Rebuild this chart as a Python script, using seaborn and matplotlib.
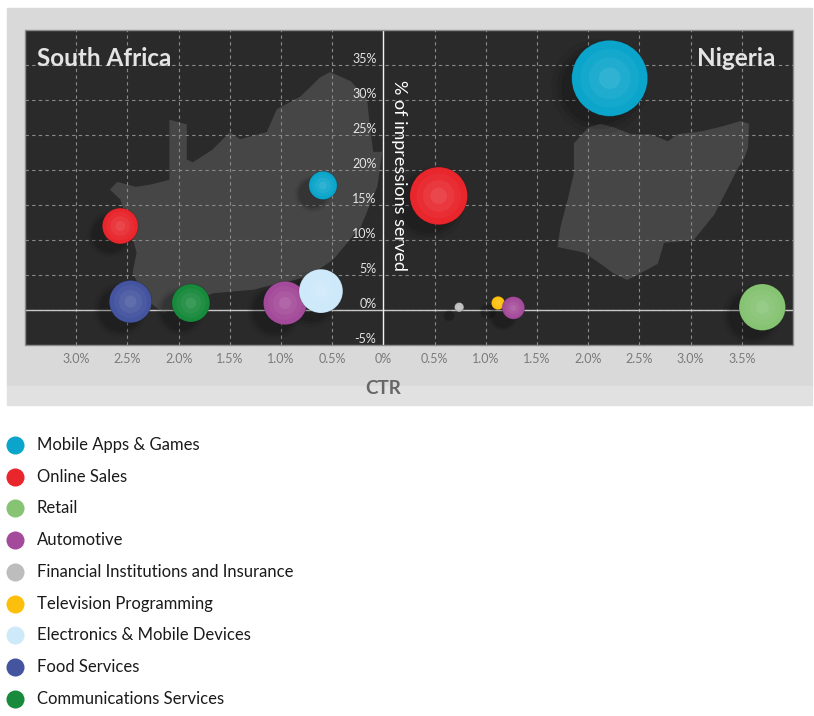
import numpy as np
import pandas as pd
import seaborn as sns
import matplotlib.pyplot as plt
from matplotlib.patches import Polygon, Rectangle
from matplotlib.lines import Line2D

# data
categories = ['Mobile Apps & Games', 'Online Sales', 'Retail', 'Automotive',
              'Financial Institutions and Insurance', 'Television Programming',
              'Electronics & Mobile Devices', 'Food Services', 'Communications Services']
colors = ['#0ba5cb', '#e8262c', '#86c373', '#a44a9a', '#bdbdbd', '#fcc00c',
          '#cde9fa', '#44549f', '#188a3c']

country = ['South Africa'] * 6 + ['Nigeria'] * 6
category = ['Mobile Apps & Games', 'Online Sales', 'Food Services', 'Communications Services',
            'Automotive', 'Electronics & Mobile Devices',
            'Mobile Apps & Games', 'Online Sales', 'Financial Institutions and Insurance',
            'Television Programming', 'Automotive', 'Retail']
ctr = [0.59, 2.57, 2.47, 1.88, 0.96, 0.61,
       2.21, 0.54, 0.74, 1.12, 1.27, 3.70]
impressions = [17.8, 12.0, 1.2, 1.0, 1.0, 2.7,
               33.1, 16.3, 0.4, 1.0, 0.3, 0.4]
volume = [200, 320, 450, 360, 470, 480,
          1440, 830, 22, 45, 128, 540]

x_ticks = [-3.0, -2.5, -2.0, -1.5, -1.0, -0.5, 0, 0.5, 1.0, 1.5, 2.0, 2.5, 3.0, 3.5]
y_ticks = [-5, 0, 5, 10, 15, 20, 25, 30, 35]

# rough country silhouettes (background decoration, in chart units)
sa_outline = [(-2.60, 18.3), (-2.42, 17.6), (-2.28, 17.9), (-2.09, 18.6), (-2.09, 27.2),
              (-1.92, 26.5), (-1.92, 21.5), (-1.86, 21.1), (-1.67, 22.9), (-1.50, 25.4),
              (-1.40, 24.4), (-1.14, 25.4), (-1.04, 28.7), (-0.81, 30.5), (-0.62, 33.2),
              (-0.52, 34.0), (-0.32, 32.7), (-0.16, 30.1), (-0.13, 26.1), (-0.10, 22.6),
              (-0.01, 22.6), (-0.06, 17.6), (-0.22, 11.9), (-0.49, 7.2), (-0.74, 4.7),
              (-0.98, 3.9), (-1.27, 2.9), (-1.66, 2.4), (-1.92, 1.0), (-2.15, -0.4),
              (-2.31, 1.4), (-2.45, 5.3), (-2.41, 8.2), (-2.48, 11.9), (-2.57, 15.8),
              (-2.67, 17.2)]
ng_outline = [(1.86, 23.8), (2.00, 26.1), (2.12, 26.6), (2.25, 26.1), (2.42, 25.1),
              (2.61, 25.1), (2.78, 24.1), (2.87, 25.1), (3.10, 25.5), (3.30, 26.2),
              (3.49, 27.0), (3.57, 26.6), (3.56, 23.1), (3.52, 21.6), (3.46, 20.2),
              (3.36, 17.3), (3.23, 13.6), (3.03, 10.0), (2.74, 9.6), (2.68, 6.6),
              (2.44, 4.7), (2.38, 4.3), (2.25, 5.2), (2.12, 6.6), (1.96, 8.2),
              (1.70, 9.0), (1.73, 11.9), (1.80, 15.8), (1.86, 19.5)]

df = pd.DataFrame({'country': country, 'category': category, 'ctr': ctr,
                   'impressions': impressions, 'volume': volume})
# South Africa is drawn mirrored to the left of the axis
df['x'] = np.where(df['country'] == 'South Africa', -df['ctr'], df['ctr'])
palette = dict(zip(categories, colors))

sns.set_style('dark')
plt.rcParams['font.family'] = ['Lato', 'DejaVu Sans']

fig = plt.figure(figsize=(8.14, 7.16), dpi=100)
fig.patch.set_facecolor('white')
fig.add_artist(Rectangle((7 / 814, 1 - 386 / 716), 805 / 814, 378 / 716,
                         transform=fig.transFigure, color='#d9d9d9', zorder=-2))
fig.add_artist(Rectangle((7 / 814, 1 - 405 / 716), 805 / 814, 19 / 716,
                         transform=fig.transFigure, color='#e1e1e1', zorder=-2))

ax = fig.add_axes([25 / 814, 1 - 345 / 716, 768 / 814, 315 / 716])
ax.set_facecolor('#2a2a2a')
ax.set_axisbelow(True)

# move the y axis to CTR = 0 first (this resets the ticks)
for s in ['top', 'right', 'bottom']:
    ax.spines[s].set_visible(False)
ax.spines['left'].set_position(('data', 0))
ax.spines['left'].set_color('#f2f2f2')
ax.spines['left'].set_linewidth(1)
ax.spines['left'].set_zorder(1)

ax.add_patch(Polygon(sa_outline, closed=True, color='#464646', lw=0, zorder=0.2))
ax.add_patch(Polygon(ng_outline, closed=True, color='#464646', lw=0, zorder=0.2))

smax = (1.44 * 38) ** 2
vmax = max(volume)

# soft shadows
shadow = df.assign(x=df['x'] - 0.1, impressions=df['impressions'] - 1.2)
for scale, a in [(1.6, 0.07), (1.25, 0.09), (1.0, 0.1)]:
    sns.scatterplot(data=shadow, x='x', y='impressions', size='volume', sizes=(0, smax * scale),
                    size_norm=(0, vmax), color='black', alpha=a, linewidth=0, legend=False,
                    ax=ax, zorder=2)

# spheres
sns.scatterplot(data=df, x='x', y='impressions', hue='category', palette=palette,
                size='volume', sizes=(0, smax), size_norm=(0, vmax),
                linewidth=0.6, edgecolor=(0, 0, 0, 0.2), legend=False, ax=ax, zorder=3)
for scale, a in [(0.6, 0.04), (0.3, 0.05), (0.08, 0.08)]:
    sns.scatterplot(data=df, x='x', y='impressions', size='volume', sizes=(0, smax * scale),
                    size_norm=(0, vmax), color='white', alpha=a, linewidth=0, legend=False,
                    ax=ax, zorder=4)

ax.set_xlim(-3.5, 4.0)
ax.set_ylim(-5, 40)
ax.set_xticks(x_ticks)
ax.set_xticklabels(['0%' if v == 0 else f'{abs(v):.1f}%' for v in x_ticks])
ax.set_yticks(y_ticks)
ax.set_yticklabels([f'{v}%' for v in y_ticks], va='bottom')
ax.grid(True, color='#8a8a8a', lw=0.8, ls=(0, (3, 3)))
ax.tick_params(axis='x', length=0, pad=6, labelsize=9, labelcolor='#7a7a7a')
ax.tick_params(axis='y', length=0, pad=5, labelsize=9, labelcolor='#e6e6e6')

ax.axhline(0, color='#c8c8c8', lw=1, zorder=1)
ax.add_patch(Rectangle((0, 0), 1, 1, transform=ax.transAxes, fill=False,
                       ec='#8c8c8c', lw=1, zorder=6, clip_on=False))
ax.set_xlabel('')
ax.set_ylabel('')

ax.text(0.07, 19.2, '% of impressions served', rotation=-90, ha='left', va='center',
        fontsize=13, color='white')
ax.text(0.016, 0.886, 'South Africa', transform=ax.transAxes, fontsize=17.5,
        fontweight='bold', color='#e4e4e4', va='baseline', ha='left')
ax.text(0.977, 0.886, 'Nigeria', transform=ax.transAxes, fontsize=17.5,
        fontweight='bold', color='#e4e4e4', va='baseline', ha='right')
fig.text(383 / 814, 1 - 388 / 716, 'CTR', fontsize=13.5, fontweight='bold',
         color='#666666', ha='center', va='center')

# legend
for i, (cat, col) in enumerate(zip(categories, colors)):
    yy = 1 - (445 + i * 31.7) / 716
    fig.add_artist(Line2D([15 / 814], [yy], marker='o', markersize=13, color=col,
                          markeredgewidth=0, transform=fig.transFigure))
    fig.text(37 / 814, yy, cat, fontsize=12, color='#1a1a1a', va='center', ha='left')

fig.savefig('out.png', dpi=100)
